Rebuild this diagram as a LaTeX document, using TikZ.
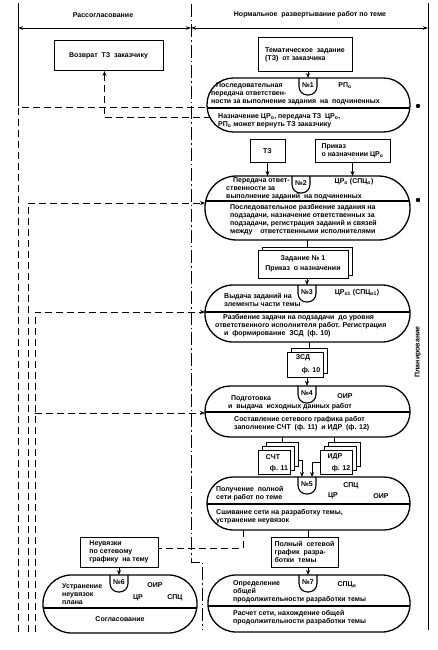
\documentclass[tikz,border=0pt]{standalone}
\usepackage{fontspec}
\setmainfont{Liberation Sans}
\usetikzlibrary{arrows.meta,calc}
\newcommand\sbo{\textsubscript{о}}
\newcommand\tabU[4]{%
  \draw[line width=1.1pt, rounded corners=8.5pt] (#2,#3) -- (#2,{#3+17}) -- ({#2+18},{#3+17}) -- ({#2+18},#3);
  \node[txt] (#1) at ({#2+9},{#3+7.5}) {#4};}
\newcommand\divd[3]{%
  \begin{scope}
    \clip[rounded corners=#3] (#1.south west) rectangle (#1.north east);
    \draw[line width=1.1pt] (#1.west |- 0,#2) -- (#1.east |- 0,#2);
  \end{scope}}
\tikzset{
  txt/.style={font=\fontsize{7}{8}\selectfont\bfseries, inner sep=0pt, align=left},
  blk/.style={draw, line width=1.3pt, outer sep=0pt, inner sep=0pt},
  box/.style={draw, line width=1pt, fill=white, outer sep=0pt, inner sep=0pt,
              font=\fontsize{7}{8.3}\selectfont\bfseries, align=left},
  arr/.style={line width=0.9pt, -{Stealth[length=5pt,width=4pt]}},
  conn/.style={line width=0.9pt},
  dsh/.style={line width=1pt, dash pattern=on 7pt off 4pt},
  dsharr/.style={dsh, -{Stealth[length=5pt,width=4pt]}},
  sepl/.style={line width=1pt, dash pattern=on 13pt off 3pt on 1.5pt off 3pt},
  hdr/.style={line width=0.8pt, {Stealth[length=5pt,width=3.5pt]}-{Stealth[length=5pt,width=3.5pt]}},
}
\begin{document}
\begin{tikzpicture}[x=1pt,y=-1pt]
\useasboundingbox (0,0) rectangle (438,650);

% frame and header
\coordinate (lt) at (18,3);
\coordinate (lb) at (18,106);
\coordinate (rt) at (428,3);
\coordinate (rb) at (428,630);
\draw[line width=1pt] (lt) -- (lb);
\draw[line width=1pt] (rt) -- (rb);
\coordinate (s1) at (191,4);
\coordinate (s2) at (191,562);
\coordinate (s3) at (202,562);
\coordinate (s4) at (202,630);
\draw[sepl] (s1) -- (s2) -- (s3) -- (s4);
\node[txt] (h1) at (103,15) {Рассогласование};
\node[txt] (h2) at (310,15) {Нормальное \ развертывание работ по теме};
\coordinate (a1) at (18,28);
\coordinate (a2) at (191,28);
\coordinate (a3) at (428,28);
\draw[hdr] (a1) -- (a2);
\draw[hdr] (a2) -- (a3);
\node[txt, rotate=90] (plan) at (418,352) {Планирование};

% top boxes
\node[box, minimum width=109pt, minimum height=30pt] (vozvrat) at (108.5,56) {Возврат \ ТЗ \ заказчику};
\node[box, minimum width=94pt, minimum height=34pt] (tz) at (305,55) {Тематическое \ задание\\(ТЗ) \ от заказчика};

% block 1
\node[blk, minimum width=203pt, minimum height=54pt, rounded corners=26.5pt] (b1) at (308.5,105) {};
\divd{b1}{108}{26.5pt}
\tabU{n1}{299}{78}{№1}
\node[txt, anchor=west] (b1a) at (211,93.5) {\hspace{5pt}Последовательная\\передача ответствен-\\ности за выполнение задания \ на \ подчиненных};
\node[txt] (b1b) at (345,86) {РП\sbo};
\node[txt, anchor=west] (b1c) at (218,120.5) {Назначение ЦР\sbo, передача ТЗ \ ЦР\sbo,\\РП\sbo\ может вернуть ТЗ заказчику};
\fill (418,106) circle[radius=2.2pt];

\node[box, minimum width=35pt, minimum height=23pt] (tzb) at (267.5,151) {ТЗ};
\node[box, minimum width=75pt, minimum height=23pt] (prikaz) at (352.5,151) {Приказ\\о назначении ЦР\sbo};

% block 2
\node[blk, minimum width=205pt, minimum height=64pt, rounded corners=31.5pt] (b2) at (307.5,208) {};
\divd{b2}{201}{31.5pt}
\tabU{n2}{292}{176}{№2}
\node[txt, anchor=west] (b2a) at (226,188.5) {\hspace{7pt}Передача ответ-\\ственности за\\выполнение заданий \ на подчиненных};
\node[txt] (b2b) at (354,182) {ЦР\sbo \ (СПЦ\sbo)};
\node[txt, anchor=west] (b2c) at (230,219.5) {Последовательное разбиение задания на\\подзадачи, назначение ответственных за\\подзадачи, регистрация заданий и связей\\между \ \ \ ответственными исполнителями};
\fill (418,200) circle[radius=2.2pt];

% zadanie stack
\node[box, minimum width=90pt, minimum height=28pt] (zadb) at (307,261) {};
\node[box, minimum width=90pt, minimum height=28pt, align=center] (zad) at (303,264) {Задание № 1\\[2pt]Приказ \ о назначении};

% block 3
\node[blk, minimum width=205pt, minimum height=57pt, rounded corners=28pt] (b3) at (307.5,313.5) {};
\divd{b3}{312}{28pt}
\tabU{n3}{298}{285}{№3}
\node[txt, anchor=west] (b3a) at (224,299.5) {Выдача заданий на\\элементы части темы};
\node[txt] (b3b) at (357,293) {ЦР\textsubscript{о1} (СПЦ\textsubscript{о1})};
\node[txt, anchor=west] (b3c) at (215,325.5) {\hspace{8pt}Разбиение задачи на подзадачи \ до уровня\\ответственного исполнителя работ. Регистрация\\\hspace{9pt}и \ формирование \ ЗСД \ (ф. 10)};

% ZSD stack
\node[box, minimum width=36pt, minimum height=25pt] (zsdb) at (309,360.5) {};
\node[box, minimum width=36pt, minimum height=25pt] (zsd) at (305,364.5) {};
\node[txt] (zsd1) at (303,358) {ЗСД};
\node[txt] (zsd2) at (311,370.5) {ф. 10};

% block 4
\node[blk, minimum width=205pt, minimum height=51pt, rounded corners=25pt] (b4) at (307.5,411.5) {};
\divd{b4}{412}{25pt}
\tabU{n4}{298}{386}{№4}
\node[txt, anchor=west] (b4a) at (228,403) {\hspace{3pt}Подготовка\\и \ выдача \ исходных данных работ};
\node[txt] (b4b) at (345,396) {ОИР};
\node[txt, anchor=west] (b4c) at (234,424) {Составление сетевого графика работ\\заполнение СЧТ \ (ф. 11) \ и ИДР \ (ф. 12)};

% SChT / IDR stacks
\node[box, minimum width=32pt, minimum height=24pt] (schb) at (282,454) {};
\node[box, minimum width=32pt, minimum height=24pt] (schm) at (278,458) {};
\node[box, minimum width=32pt, minimum height=24pt] (sch) at (274,462) {};
\node[txt] (sch1) at (273,457) {СЧТ};
\node[txt] (sch2) at (279,469) {ф. 11};
\node[box, minimum width=32pt, minimum height=24pt] (idrb) at (344,454) {};
\node[box, minimum width=32pt, minimum height=24pt] (idrm) at (340,458) {};
\node[box, minimum width=32pt, minimum height=24pt] (idr) at (336,462) {};
\node[txt] (idr1) at (335,457) {ИДР};
\node[txt] (idr2) at (341,469) {ф. 12};

% block 5
\node[blk, minimum width=203pt, minimum height=53pt, rounded corners=26pt] (b5) at (308.5,503.5) {};
\divd{b5}{504}{26pt}
\tabU{n5}{298}{477}{№5}
\node[txt, anchor=west] (b5a) at (216,493.5) {Получение \ полной\\сети работ по теме};
\node[txt] (b5b) at (351,486) {СПЦ};
\node[txt] (b5c) at (333,496) {ЦР};
\node[txt] (b5d) at (381,496) {ОИР};
\node[txt, anchor=west] (b5e) at (216,517) {Сшивание сети на разработку темы,\\устранение неувязок};

\node[box, minimum width=67pt, minimum height=30pt] (polny) at (304.5,552) {Полный \ сетевой\\график \ разра-\\ботки \ темы};
\node[box, minimum width=78pt, minimum height=30pt] (nevyaz) at (119,552) {Неувязки\\по сетевому\\графику \ на тему};

% block 7
\node[blk, minimum width=202pt, minimum height=57pt, rounded corners=28pt] (b7) at (309,603.5) {};
\divd{b7}{606}{28pt}
\tabU{n7}{299}{575}{№7}
\node[txt, anchor=west] (b7a) at (233,592) {Определение\\общей\\продолжительности разработки темы};
\node[txt] (b7b) at (347,584.5) {СПЦ\sbo};
\node[txt, anchor=west] (b7c) at (233,618) {Расчет сети, нахождение общей\\продолжительности разработки темы};

% block 6
\node[blk, minimum width=154pt, minimum height=58pt, rounded corners=28.5pt] (b6) at (120,604) {};
\divd{b6}{608}{28.5pt}
\tabU{n6}{110}{575}{№6}
\node[txt, anchor=west] (b6a) at (62,594) {Устранение\\неувязок\\плана};
\node[txt] (b6b) at (155,585) {ОИР};
\node[txt] (b6c) at (138,597.5) {ЦР};
\node[txt] (b6d) at (175,597.5) {СПЦ};
\node[txt] (b6e) at (120,619.5) {Согласование};

% solid connectors
\draw[arr] (tz.south -| n1) -- (n1 |- b1.north);
\draw[arr] (tzb.south) -- (tzb.south |- b2.north);
\draw[arr] (prikaz.south) -- (prikaz.south |- b2.north);
\draw[conn] (zadb.north |- b2.south) -- (zadb.north);
\draw[arr] (zad.south -| n3) -- (n3 |- b3.north);
\draw[conn] (zsdb.north |- b3.south) -- (zsdb.north);
\draw[arr] (zsd.south -| n4) -- (n4 |- b4.north);
\draw[conn] (schb.north |- b4.south) -- (schb.north);
\draw[conn] ([xshift=-10pt]idrb.north |- b4.south) -- ([xshift=-10pt]idrb.north);
\draw[arr] ([yshift=-6pt]schb.east) -| ([xshift=-5pt]n5.north |- b5.north);
\draw[arr] (idr.west) -| ([xshift=5pt]n5.north |- b5.north);
\draw[conn] (b5.south -| n7) -- (polny.north -| n7);
\draw[arr] (polny.south -| n7) -- (n7 |- b7.north);
\draw[arr] (nevyaz.south -| n6) -- (n6 |- b6.north);

% dashed connectors
\coordinate (d1) at (18,632);
\coordinate (d2) at (28,632);
\coordinate (d3) at (35,632);
\draw[dsh] (d1) -- (18,108) -- (b1.west |- 0,108);
\draw[dsharr] ([xshift=3.5pt]b1.west |- 0,118) -| ([xshift=-4pt]vozvrat.south);
\draw[dsharr] (d2) |- (b2.west |- 0,203);
\draw[dsharr] (d3) |- (b3.west |- 0,312);
\draw[dsharr] (35,413) -- (b4.west |- 0,413);
\draw[dsh] (b5.south -| 243,0) -- (243,548) -- (nevyaz.east |- 0,548);
\end{tikzpicture}
\end{document}
